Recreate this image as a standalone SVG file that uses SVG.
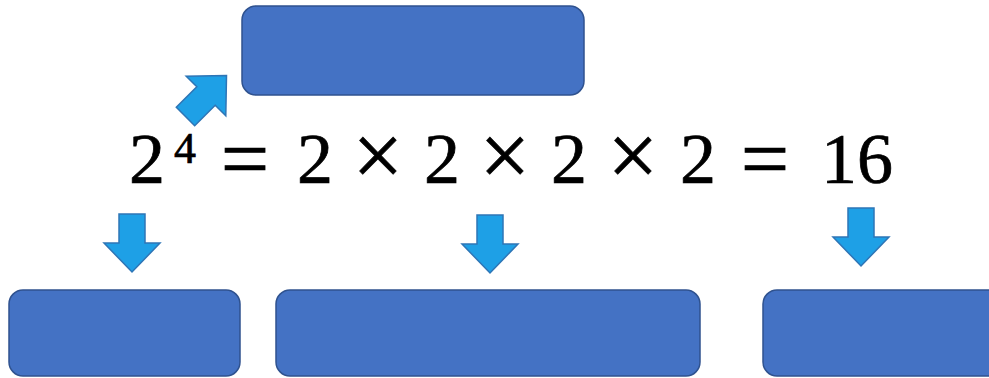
<svg xmlns="http://www.w3.org/2000/svg" width="989" height="378" viewBox="0 0 989 378">
<defs>
<style>
.box{fill:#4472C4;stroke:#2F528F;stroke-width:1.5}
.arr{fill:#1EA0E6;stroke:#2E75B6;stroke-width:1.5;stroke-linejoin:miter}
.eq{font-family:"Liberation Serif","Times New Roman",serif;fill:#000;stroke:#000;stroke-width:0.7;text-anchor:middle}
</style>
<path id="down" d="M-13,-29 H13 V0 H28 L0,29 L-28,0 H-13 Z"/>
</defs>
<rect width="989" height="378" fill="#fff"/>
<g id="top-box"><rect class="box" x="242" y="6" width="342" height="89" rx="14"/></g>
<g id="box-left"><rect class="box" x="9" y="290" width="231" height="86" rx="14"/></g>
<g id="box-middle"><rect class="box" x="276" y="290" width="424" height="86" rx="14"/></g>
<g id="box-right"><rect class="box" x="763" y="290" width="240" height="86" rx="14"/></g>
<g id="equation" class="eq">
<text x="147" y="183" font-size="72">2</text>
<text x="185" y="163" font-size="44">4</text>
<text x="245" y="188" font-size="86">=</text>
<text x="315" y="183" font-size="72">2</text>
<text x="378" y="186" font-size="90">×</text>
<text x="442" y="183" font-size="72">2</text>
<text x="505" y="186" font-size="90">×</text>
<text x="569" y="183" font-size="72">2</text>
<text x="633" y="186" font-size="90">×</text>
<text x="698" y="183" font-size="72">2</text>
<text x="765" y="188" font-size="86">=</text>
<text x="857" y="183" font-size="72">16</text>
</g>
<g id="connectors">
<use href="#down" class="arr" transform="translate(206,96) rotate(-135)"/>
<use href="#down" class="arr" transform="translate(132,243)"/>
<use href="#down" class="arr" transform="translate(490,244)"/>
<use href="#down" class="arr" transform="translate(861,237)"/>
</g>
</svg>
